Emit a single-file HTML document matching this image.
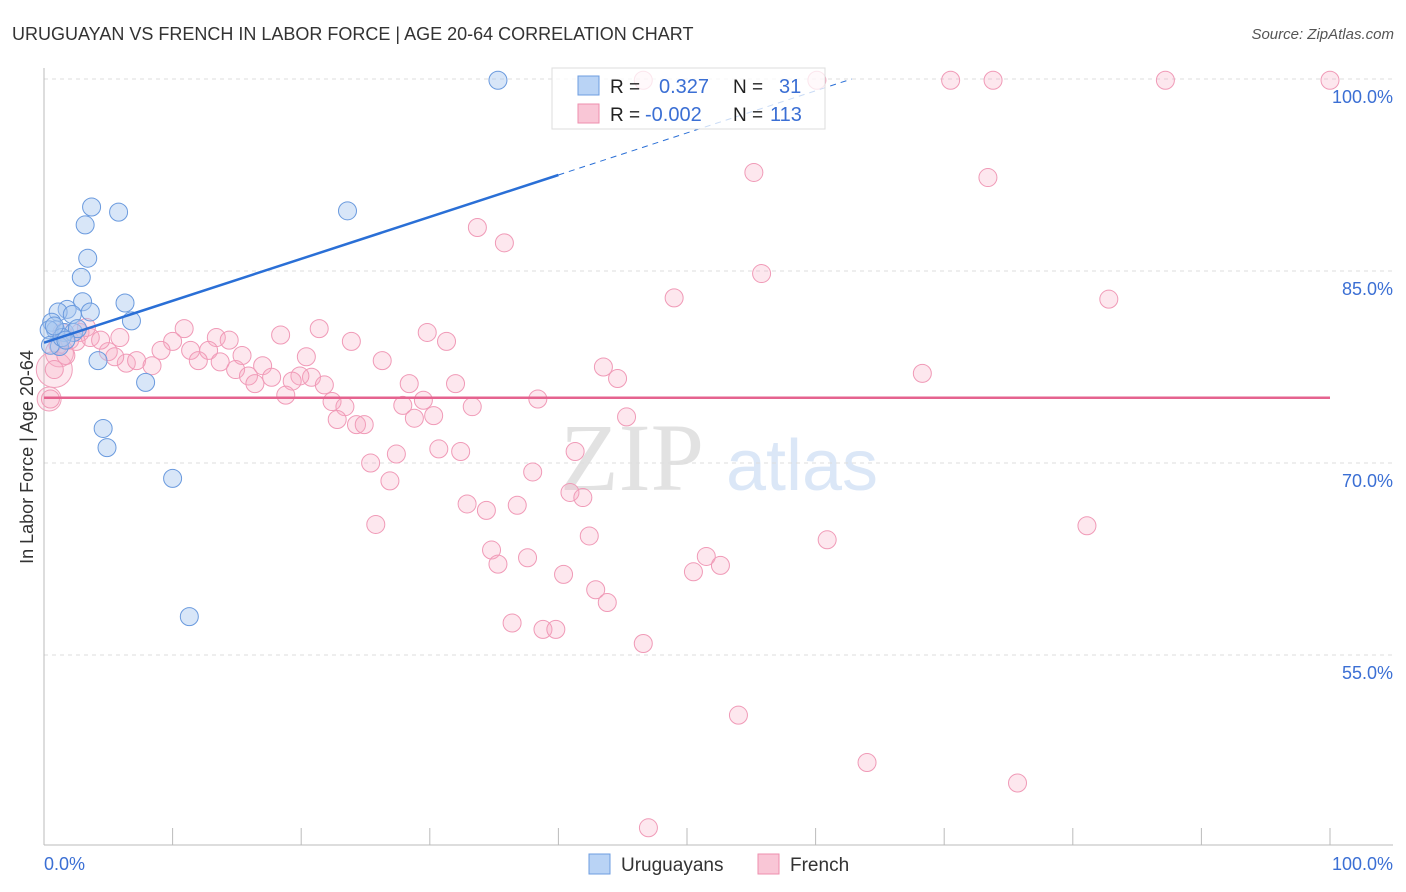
<!DOCTYPE html>
<html><head><meta charset="utf-8"><style>
body{margin:0;background:#fff;font-family:"Liberation Sans",sans-serif}
svg{display:block}
</style></head><body>
<svg width="1406" height="892" xmlns="http://www.w3.org/2000/svg" id="chart">
<text x="12" y="40" font-size="18" fill="#333">URUGUAYAN VS FRENCH IN LABOR FORCE | AGE 20-64 CORRELATION CHART</text>
<text x="1394" y="39" font-size="15" fill="#555" text-anchor="end" font-style="italic">Source: ZipAtlas.com</text>
<g opacity="0.18">
<text x="632" y="490" font-size="96" font-family="Liberation Serif,serif" fill="#666" text-anchor="middle">ZIP</text>
<text x="802" y="490" font-size="72" fill="#3b7dd8" text-anchor="middle">atlas</text>
</g>
<g id="grid"></g>
<g id="axes"></g>
<g id="points"></g>
<g id="trends"></g>
<text transform="translate(33,457) rotate(-90)" font-size="18" fill="#333" text-anchor="middle">In Labor Force | Age 20-64</text>
<g>
<rect x="552" y="68" width="273" height="61" fill="#fff" fill-opacity="0.75" stroke="#ddd"/>
<rect x="578" y="76" width="21" height="19" fill="#b9d3f5" stroke="#6d9de0"/>
<rect x="578" y="104" width="21" height="19" fill="#f9c6d6" stroke="#ee8fae"/>
<text x="610" y="93" font-size="19" fill="#222">R =</text>
<text x="659" y="93" font-size="20" fill="#3b6fd4">0.327</text>
<text x="733" y="93" font-size="19" fill="#222">N =</text>
<text x="779" y="93" font-size="20" fill="#3b6fd4">31</text>
<text x="610" y="121" font-size="19" fill="#222">R =</text>
<text x="645" y="121" font-size="20" fill="#3b6fd4">-0.002</text>
<text x="733" y="121" font-size="19" fill="#222">N =</text>
<text x="770" y="121" font-size="20" fill="#3b6fd4">113</text>
</g>
<g>
<rect x="589" y="854" width="21" height="20" fill="#b9d3f5" stroke="#6d9de0"/>
<text x="621" y="871" font-size="19" fill="#333">Uruguayans</text>
<rect x="758" y="854" width="21" height="20" fill="#f9c6d6" stroke="#ee8fae"/>
<text x="790" y="871" font-size="19" fill="#333">French</text>
</g>
</svg>
<script>
const yTicks=[100,85,70,55];
const yTickLabels=["100.0%","85.0%","70.0%","55.0%"];
const xTickLabels=["0.0%","100.0%"];
const blueX=[35.3,3.7,5.8,3.2,23.6,3.4,2.9,3.0,6.3,1.8,1.1,3.6,2.2,6.8,0.6,0.9,0.4,1.6,2.3,1.2,4.2,7.9,4.6,4.9,10.0,11.3,0.5,1.4,2.6,0.8,1.7];
const blueY=[99.9,90.0,89.6,88.6,89.7,86.0,84.5,82.6,82.5,82.0,81.8,81.8,81.6,81.1,81.0,80.4,80.4,80.2,80.2,79.1,78.0,76.3,72.7,71.2,68.8,58.0,79.2,79.8,80.5,80.7,79.6];
const pinkX=[46.6,60.1,70.5,73.8,87.2,100,55.2,73.4,33.7,35.8,55.8,49.0,82.8,21.4,10.9,18.4,29.8,13.4,14.4,23.9,31.3,10.0,5.9,5.0,9.1,11.4,12.8,20.4,26.3,15.4,12.0,13.7,6.4,7.2,8.4,5.5,17.0,14.9,43.5,68.3,44.6,15.9,17.7,20.8,19.9,16.4,19.3,21.8,28.4,32.0,18.8,38.4,22.4,23.4,27.9,29.5,33.3,22.8,45.3,28.8,30.3,24.3,24.9,30.7,32.4,27.4,41.3,25.4,38.0,26.9,40.9,41.9,32.9,34.4,36.8,25.8,42.4,81.1,60.9,34.8,35.3,37.6,51.5,40.4,50.5,52.6,42.9,43.8,36.4,38.8,39.8,46.6,54.0,64.0,75.7,47.0,0.8,0.5,1.1,2.0,2.8,3.6,4.4,2.5,1.4,3.3,1.7];
const pinkY=[99.9,99.9,99.9,99.9,99.9,99.9,92.7,92.3,88.4,87.2,84.8,82.9,82.8,80.5,80.5,80.0,80.2,79.8,79.6,79.5,79.5,79.5,79.8,78.7,78.8,78.8,78.8,78.3,78.0,78.4,78.0,77.9,77.8,78.0,77.6,78.3,77.6,77.3,77.5,77.0,76.6,76.8,76.7,76.7,76.8,76.2,76.4,76.1,76.2,76.2,75.3,75.0,74.8,74.4,74.5,74.9,74.4,73.4,73.6,73.5,73.7,73.0,73.0,71.1,70.9,70.7,70.9,70.0,69.3,68.6,67.7,67.3,66.8,66.3,66.7,65.2,64.3,65.1,64.0,63.2,62.1,62.6,62.7,61.3,61.5,62.0,60.1,59.1,57.5,57.0,57.0,55.9,50.3,46.6,45.0,41.5,77.3,75.0,79.2,79.6,80.2,79.8,79.6,79.5,80.2,80.6,78.4];
const bigPinkX=[0.8,1.2,0.4];
const bigPinkY=[77.3,78.6,75.0];
const blueTrend=[[0,79.4],[40,92.5],[62.8,100]];
const pinkTrend=[[0,75.1],[100,75.1]];
const NS="http://www.w3.org/2000/svg";
const X=v=>44+v*12.86, Y=v=>79+(100-v)*12.8;
function mk(t,a,p){const e=document.createElementNS(NS,t);for(const k in a)e.setAttribute(k,a[k]);p.appendChild(e);return e;}
const grid=document.getElementById('grid'),axes=document.getElementById('axes'),pts=document.getElementById('points'),tr=document.getElementById('trends');
yTicks.forEach((t,i)=>{
 const l=mk('line',{x1:44,x2:1393,y1:Y(t),y2:Y(t),stroke:'#ddd','stroke-dasharray':'4,4'},grid);
 
 
 const tx=mk('text',{x:1393,y:Y(t)+24,'font-size':18,fill:'#3b6fd4','text-anchor':'end'},axes);
 tx.textContent=yTickLabels[i];
 
 
});
const ya=mk('line',{x1:44,x2:44,y1:68,y2:845,stroke:'#bbb'},axes);


const xa=mk('line',{x1:44,x2:1393,y1:845,y2:845,stroke:'#bbb'},axes);


for(let i=0;i<=10;i++){
 const tk=mk('line',{x1:X(i*10),x2:X(i*10),y1:828,y2:845,stroke:'#bbb'},axes);
 
 
}
[[X(0),'start'],[1393,'end']].forEach((p,i)=>{
 const tx=mk('text',{x:p[0],y:870,'font-size':18,fill:'#3b6fd4','text-anchor':p[1]},axes);
 tx.textContent=xTickLabels[i];
 
 
});
bigPinkX.forEach((v,i)=>{
 const c=mk('circle',{cx:X(v),cy:Y(bigPinkY[i]),r:i==0?18:(i==1?14:12),fill:'#f7a8c1','fill-opacity':0.25,stroke:'#f0a0bb','stroke-width':1},pts);
 
 
});
pinkX.forEach((v,i)=>{
 const c=mk('circle',{cx:X(v),cy:Y(pinkY[i]),r:9,fill:'#f7a8c1','fill-opacity':0.28,stroke:'#f09ab7','stroke-width':1},pts);
 
 
});
blueX.forEach((v,i)=>{
 const c=mk('circle',{cx:X(v),cy:Y(blueY[i]),r:9,fill:'#a9c8f0','fill-opacity':0.45,stroke:'#6a9ade','stroke-width':1},pts);
 
 
});
const b1=mk('line',{x1:X(blueTrend[0][0]),y1:Y(blueTrend[0][1]),x2:X(blueTrend[1][0]),y2:Y(blueTrend[1][1]),stroke:'#2a6fd6','stroke-width':2.5},tr);


const b2=mk('line',{x1:X(blueTrend[1][0]),y1:Y(blueTrend[1][1]),x2:X(blueTrend[2][0]),y2:Y(blueTrend[2][1]),stroke:'#2a6fd6','stroke-width':1,'stroke-dasharray':'6,5'},tr);


const p1=mk('line',{x1:X(pinkTrend[0][0]),y1:Y(pinkTrend[0][1]),x2:X(pinkTrend[1][0]),y2:Y(pinkTrend[1][1]),stroke:'#e5638f','stroke-width':2.5},tr);


</script>
</body></html>
